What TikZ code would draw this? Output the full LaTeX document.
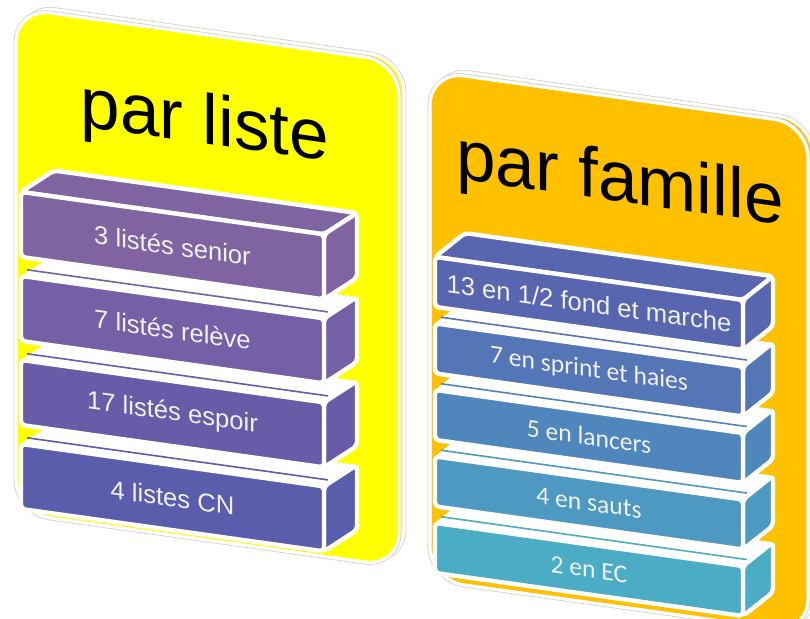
\documentclass[tikz,border=0pt]{standalone}
\usepackage{fontspec}
\setmainfont{Liberation Sans}
\newfontfamily\carlito{Carlito}

\definecolor{jaune}{RGB}{255,255,0}
\definecolor{orange}{RGB}{255,192,0}
\definecolor{lb1}{RGB}{128,100,162}
\definecolor{lb2}{RGB}{116,96,166}
\definecolor{lb3}{RGB}{104,92,168}
\definecolor{lb4}{RGB}{90,92,172}
\definecolor{fb1}{RGB}{88,102,176}
\definecolor{fb2}{RGB}{84,118,183}
\definecolor{fb3}{RGB}{79,135,189}
\definecolor{fb4}{RGB}{77,153,194}
\definecolor{fb5}{RGB}{75,172,198}

\tikzset{
  panneau/.style={fill=#1, draw=white, line width=1.6pt, rounded corners=17pt},
  panneaubord/.style={draw=gray!35, line width=2.4pt, rounded corners=17pt},
  brique/.style={fill=#1, draw=white, line width=2.2pt, rounded corners=2pt, line join=round},
  etiquette/.style={text=white!94!black, inner sep=0pt, font=\fontsize{12.8pt}{15pt}\selectfont},
  titre/.style={anchor=base, inner sep=0pt, font=\fontsize{35.5pt}{40pt}\selectfont}
}

\begin{document}
\begin{tikzpicture}[x=0.5pt,y=0.5pt]
\useasboundingbox (0,0) rectangle (810,-619);
\clip (0,0) rectangle (810,-619);

\begin{scope}[yslant=-0.14, transform shape]
% par liste
\draw[panneaubord] (21,-2) rectangle (404,-507);
\draw[panneau=jaune] (21,-2) rectangle (404,-507);
\draw[panneaubord] (16,-6) rectangle (399,-511);
\draw[panneau=jaune] (16,-6) rectangle (399,-511);
\node[titre] (liste) at (205,-115) {par liste};

\foreach \haut/\coul/\texte [count=\n] in {441/lb4/{4 listes CN}, 357/lb3/{17 listés espoir}, 273/lb2/{7 listés relève}, 189/lb1/{3 listés senior}}{
  \ifnum\n<4
    \fill[white] (21,-\haut) -- (54,-\haut+26) -- (357,-\haut+26) -- (324,-\haut) -- cycle;
    \draw[\coul, line width=0.8pt] (27,-\haut+7) -- (328,-\haut+7);
  \else
    \draw[brique=\coul] (21,-\haut) -- (54,-\haut+26) -- (357,-\haut+26) -- (324,-\haut) -- cycle;
  \fi
  \draw[brique=\coul] (324,-\haut) -- (357,-\haut+26) -- (357,-\haut-39) -- (324,-\haut-65) -- cycle;
  \draw[brique=\coul] (21,-\haut) rectangle (324,-\haut-65);
  \node[etiquette] (liste\n) at (172.5,-\haut-32.5) {\texte};
}

% par famille
\draw[panneaubord] (435,-7) rectangle (813,-516);
\draw[panneau=orange] (435,-7) rectangle (813,-516);
\draw[panneaubord] (430,-11) rectangle (808,-520);
\draw[panneau=orange] (430,-11) rectangle (808,-520);
\node[titre] (famille) at (620,-115) {par famille};

\foreach \haut/\coul/\texte [count=\n] in {462/fb5/{\carlito 2 en EC}, 395.5/fb4/{\carlito 4 en sauts}, 329/fb3/{\carlito 5 en lancers}, 262.5/fb2/{\carlito 7 en sprint et haies}, 196/fb1/{13 en 1/2 fond et marche}}{
  \ifnum\n<5
    \fill[white] (435,-\haut) -- (465,-\haut+28) -- (773,-\haut+28) -- (743,-\haut) -- cycle;
    \draw[\coul, line width=0.8pt] (441,-\haut+7) -- (747,-\haut+7);
  \else
    \draw[brique=\coul] (435,-\haut) -- (465,-\haut+28) -- (773,-\haut+28) -- (743,-\haut) -- cycle;
  \fi
  \draw[brique=\coul] (743,-\haut) -- (773,-\haut+28) -- (773,-\haut-22) -- (743,-\haut-50) -- cycle;
  \draw[brique=\coul] (435,-\haut) rectangle (743,-\haut-50);
  \node[etiquette] (famille\n) at (589,-\haut-25) {\texte};
}
\end{scope}
\end{tikzpicture}
\end{document}
